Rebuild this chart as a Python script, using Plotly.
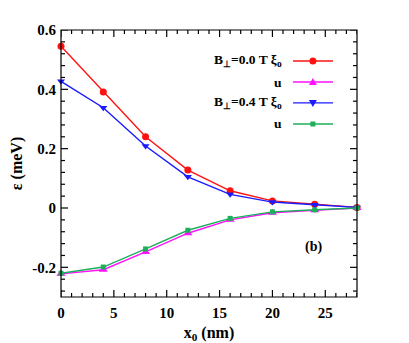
import plotly.graph_objects as go

x0 = [0, 4, 8, 12, 16, 20, 24, 28]
xi_b00 = [0.545, 0.391, 0.240, 0.128, 0.058, 0.024, 0.013, 0.002]
u_b00 = [-0.222, -0.208, -0.148, -0.085, -0.040, -0.016, -0.008, 0.000]
xi_b04 = [0.427, 0.338, 0.209, 0.105, 0.046, 0.020, 0.011, 0.002]
u_b04 = [-0.220, -0.199, -0.138, -0.075, -0.035, -0.013, -0.006, 0.000]

names = ["B<sub>⊥</sub>=0.0 T ξ<sub>o</sub>", "u", "B<sub>⊥</sub>=0.4 T ξ<sub>o</sub>", "u"]
colors = ["#ff1010", "#ff10ff", "#1a1aff", "#1cb05a"]
symbols = ["circle", "triangle-up", "triangle-down", "square"]
sizes = [7, 8, 7, 5]
series = [xi_b00, u_b00, xi_b04, u_b04]

ytickvals = [-0.2, 0, 0.2, 0.4, 0.6]
yticktext = ["-0.2", "0", "0.2", "0.4", "0.6"]
xtickvals = [0, 5, 10, 15, 20, 25]
xminor = list(range(0, 29))
yminor = [round(-0.28 + 0.04 * i, 2) for i in range(23)]
XR = [0, 28]
YR = [-0.3, 0.6]

# page body adds an 8px offset; size the figure so the plot box lands where the reference's does
W, H = 401, 335
ML, MR, MT, MB = 53, 52, 22, 46
PW, PH = W - ML - MR, H - MT - MB
XPP = (XR[1] - XR[0]) / PW  # x units per pixel
YPP = (YR[1] - YR[0]) / PH  # y units per pixel

FONT = "Liberation Serif"
fig = go.Figure()

# inward ticks on all four sides, as one line trace
tx, ty = [], []
for xv in xminor:
    L = 7 if xv % 5 == 0 else 4
    tx += [xv, xv, None, xv, xv, None]
    ty += [YR[0], YR[0] + L * YPP, None, YR[1], YR[1] - L * YPP, None]
for yv in yminor:
    L = 7 if abs(round(yv / 0.2) * 0.2 - yv) < 1e-6 else 4
    tx += [XR[0], XR[0] + L * XPP, None, XR[1], XR[1] - L * XPP, None]
    ty += [yv, yv, None, yv, yv, None]
fig.add_trace(go.Scatter(x=tx, y=ty, mode="lines", line=dict(color="black", width=1.2),
                         showlegend=False, hoverinfo="skip", connectgaps=False))

for ys, c, s, sz in zip(series, colors, symbols, sizes):
    fig.add_trace(go.Scatter(x=x0, y=ys, mode="lines+markers",
                             line=dict(color=c, width=1.4),
                             marker=dict(symbol=s, size=sz, color=c),
                             showlegend=False, cliponaxis=False))

# frame
fig.add_shape(type="rect", xref="paper", yref="paper", x0=0, x1=1, y0=0, y1=1,
              line=dict(color="black", width=1.2))

# hand-built legend (text left, sample right), in paper coordinates
leg_y = [0.884, 0.805, 0.727, 0.648]
lx0, lx1, lxm, ltx = 0.784, 0.919, 0.851, 0.753
def px(dx):
    return dx / PW
def py(dy):
    return dy / PH
for ly, c, s, n in zip(leg_y, colors, symbols, names):
    fig.add_shape(type="line", xref="paper", yref="paper", x0=lx0, x1=lx1, y0=ly, y1=ly,
                  line=dict(color=c, width=1.4))
    if s == "circle":
        r = 3.5
        fig.add_shape(type="circle", xref="paper", yref="paper", x0=lxm - px(r), x1=lxm + px(r),
                      y0=ly - py(r), y1=ly + py(r), fillcolor=c, line=dict(color=c, width=0))
    elif s == "square":
        r = 2.5
        fig.add_shape(type="rect", xref="paper", yref="paper", x0=lxm - px(r), x1=lxm + px(r),
                      y0=ly - py(r), y1=ly + py(r), fillcolor=c, line=dict(color=c, width=0))
    else:
        sgn = 1 if s == "triangle-up" else -1
        path = "M {:.5f},{:.5f} L {:.5f},{:.5f} L {:.5f},{:.5f} Z".format(
            lxm, ly + sgn * py(4), lxm - px(4), ly - sgn * py(3), lxm + px(4), ly - sgn * py(3))
        fig.add_shape(type="path", xref="paper", yref="paper", path=path,
                      fillcolor=c, line=dict(color=c, width=0))
    fig.add_annotation(x=ltx, y=ly, xref="paper", yref="paper", text="<b>" + n + "</b>",
                       showarrow=False, xanchor="right", yanchor="middle",
                       font=dict(family=FONT, size=13.5, color="black"))

fig.add_annotation(x=0.89, y=0.15, xref="paper", yref="paper", text="<b>(b)</b>",
                   showarrow=False, font=dict(family=FONT, size=14, color="black"))

axis_common = dict(showline=False, ticks="", showgrid=False, zeroline=False, automargin=False,
                   tickfont=dict(family=FONT, size=15, color="black", weight="bold"))
fig.update_layout(
    width=W, height=H,
    margin=dict(l=ML, r=MR, t=MT, b=MB),
    paper_bgcolor="white", plot_bgcolor="white",
    xaxis=dict(range=XR, tickvals=xtickvals, ticklabelstandoff=5,
               title=dict(text="<b>x<sub>0</sub> (nm)</b>", font=dict(family=FONT, size=16, color="black"),
                          standoff=7),
               **axis_common),
    yaxis=dict(range=YR, tickvals=ytickvals, ticktext=yticktext, ticklabelstandoff=4,
               title=dict(text="<b>ε (meV)</b>", font=dict(family=FONT, size=16, color="black"), standoff=10),
               **axis_common),
)
fig.write_html("out.html")
